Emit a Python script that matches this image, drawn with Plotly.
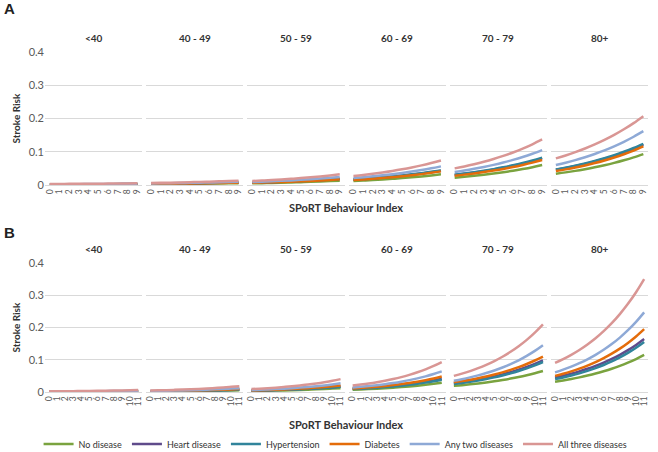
import plotly.graph_objects as go
from plotly.subplots import make_subplots

# Categories
AGE_GROUPS = ['&lt;40', '40 - 49', '50 - 59', '60 - 69', '70 - 79', '80+']
DISEASES = ['No disease', 'Heart disease', 'Hypertension', 'Diabetes',
            'Any two diseases', 'All three diseases']
COLORS = ['#7AA33F', '#5F4B8B', '#31849B', '#E46C0A', '#8EA9D6', '#D99694']

INDEX_A = [0, 1, 2, 3, 4, 5, 6, 7, 8, 9]
INDEX_B = [0, 1, 2, 3, 4, 5, 6, 7, 8, 9, 10, 11]

# Panel A: stroke risk per age group, rows in DISEASES order
A_LT40 = [
    [0.0012, 0.0013, 0.0014, 0.0015, 0.0015, 0.0016, 0.0017, 0.0018, 0.0020, 0.0021],
    [0.0017, 0.0018, 0.0019, 0.0020, 0.0022, 0.0023, 0.0024, 0.0026, 0.0027, 0.0029],
    [0.0018, 0.0019, 0.0020, 0.0021, 0.0023, 0.0024, 0.0025, 0.0027, 0.0028, 0.0030],
    [0.0016, 0.0017, 0.0018, 0.0019, 0.0020, 0.0021, 0.0022, 0.0024, 0.0025, 0.0027],
    [0.0022, 0.0023, 0.0025, 0.0026, 0.0028, 0.0029, 0.0031, 0.0033, 0.0035, 0.0037],
    [0.0030, 0.0032, 0.0034, 0.0036, 0.0038, 0.0040, 0.0042, 0.0044, 0.0047, 0.0050],
]
A_40_49 = [
    [0.0025, 0.0027, 0.0030, 0.0032, 0.0035, 0.0039, 0.0042, 0.0046, 0.0050, 0.0055],
    [0.0035, 0.0038, 0.0042, 0.0045, 0.0049, 0.0054, 0.0059, 0.0064, 0.0070, 0.0076],
    [0.0037, 0.0040, 0.0044, 0.0048, 0.0052, 0.0057, 0.0062, 0.0067, 0.0073, 0.0080],
    [0.0032, 0.0035, 0.0038, 0.0042, 0.0045, 0.0049, 0.0054, 0.0059, 0.0064, 0.0070],
    [0.0045, 0.0049, 0.0053, 0.0058, 0.0064, 0.0069, 0.0076, 0.0082, 0.0090, 0.0098],
    [0.0060, 0.0065, 0.0071, 0.0078, 0.0085, 0.0092, 0.0101, 0.0110, 0.0119, 0.0130],
]
A_50_59 = [
    [0.0050, 0.0056, 0.0062, 0.0069, 0.0077, 0.0085, 0.0094, 0.0105, 0.0117, 0.0130],
    [0.0070, 0.0078, 0.0086, 0.0096, 0.0106, 0.0118, 0.0131, 0.0146, 0.0162, 0.0180],
    [0.0075, 0.0083, 0.0093, 0.0103, 0.0114, 0.0127, 0.0141, 0.0156, 0.0172, 0.0190],
    [0.0065, 0.0072, 0.0080, 0.0090, 0.0100, 0.0111, 0.0124, 0.0138, 0.0153, 0.0170],
    [0.0090, 0.0100, 0.0112, 0.0125, 0.0139, 0.0155, 0.0173, 0.0193, 0.0215, 0.0240],
    [0.0120, 0.0134, 0.0149, 0.0166, 0.0186, 0.0207, 0.0231, 0.0257, 0.0287, 0.0320],
]
A_60_69 = [
    [0.0120, 0.0134, 0.0149, 0.0166, 0.0186, 0.0207, 0.0231, 0.0257, 0.0287, 0.0320],
    [0.0160, 0.0179, 0.0199, 0.0222, 0.0248, 0.0277, 0.0309, 0.0345, 0.0385, 0.0430],
    [0.0170, 0.0189, 0.0210, 0.0233, 0.0259, 0.0288, 0.0320, 0.0356, 0.0396, 0.0440],
    [0.0150, 0.0168, 0.0188, 0.0210, 0.0234, 0.0262, 0.0293, 0.0327, 0.0366, 0.0410],
    [0.0210, 0.0234, 0.0261, 0.0291, 0.0325, 0.0362, 0.0404, 0.0450, 0.0502, 0.0560],
    [0.0270, 0.0302, 0.0338, 0.0378, 0.0422, 0.0472, 0.0528, 0.0591, 0.0661, 0.0739],
]
A_70_79 = [
    [0.0220, 0.0246, 0.0275, 0.0307, 0.0343, 0.0384, 0.0429, 0.0480, 0.0536, 0.0600],
    [0.0300, 0.0335, 0.0373, 0.0416, 0.0464, 0.0517, 0.0577, 0.0643, 0.0717, 0.0800],
    [0.0310, 0.0345, 0.0385, 0.0429, 0.0478, 0.0532, 0.0593, 0.0661, 0.0736, 0.0820],
    [0.0280, 0.0312, 0.0349, 0.0389, 0.0434, 0.0484, 0.0540, 0.0603, 0.0672, 0.0750],
    [0.0390, 0.0435, 0.0486, 0.0543, 0.0606, 0.0676, 0.0755, 0.0843, 0.0941, 0.1050],
    [0.0500, 0.0559, 0.0625, 0.0699, 0.0782, 0.0875, 0.0978, 0.1094, 0.1224, 0.1369],
]
A_80 = [
    [0.0340, 0.0380, 0.0425, 0.0476, 0.0532, 0.0595, 0.0665, 0.0744, 0.0832, 0.0930],
    [0.0460, 0.0512, 0.0570, 0.0635, 0.0707, 0.0788, 0.0877, 0.0977, 0.1088, 0.1211],
    [0.0470, 0.0523, 0.0583, 0.0649, 0.0723, 0.0805, 0.0897, 0.0999, 0.1113, 0.1240],
    [0.0420, 0.0470, 0.0526, 0.0589, 0.0660, 0.0739, 0.0827, 0.0926, 0.1036, 0.1160],
    [0.0600, 0.0670, 0.0748, 0.0836, 0.0933, 0.1042, 0.1164, 0.1299, 0.1451, 0.1620],
    [0.0800, 0.0889, 0.0988, 0.1098, 0.1221, 0.1357, 0.1508, 0.1676, 0.1862, 0.2070],
]

# Panel B
B_LT40 = [
    [0.0007, 0.0008, 0.0009, 0.0009, 0.0010, 0.0011, 0.0012, 0.0014, 0.0015, 0.0017, 0.0018, 0.0020],
    [0.0010, 0.0011, 0.0012, 0.0013, 0.0014, 0.0016, 0.0017, 0.0019, 0.0021, 0.0023, 0.0025, 0.0028],
    [0.0009, 0.0010, 0.0011, 0.0012, 0.0013, 0.0014, 0.0016, 0.0017, 0.0019, 0.0021, 0.0023, 0.0026],
    [0.0011, 0.0012, 0.0013, 0.0015, 0.0016, 0.0017, 0.0019, 0.0021, 0.0023, 0.0025, 0.0028, 0.0031],
    [0.0014, 0.0015, 0.0017, 0.0019, 0.0020, 0.0022, 0.0025, 0.0027, 0.0030, 0.0033, 0.0036, 0.0040],
    [0.0020, 0.0022, 0.0025, 0.0027, 0.0030, 0.0033, 0.0036, 0.0040, 0.0044, 0.0049, 0.0054, 0.0060],
]
B_40_49 = [
    [0.0015, 0.0017, 0.0019, 0.0021, 0.0024, 0.0027, 0.0030, 0.0034, 0.0038, 0.0043, 0.0048, 0.0055],
    [0.0021, 0.0024, 0.0027, 0.0030, 0.0034, 0.0038, 0.0043, 0.0049, 0.0055, 0.0062, 0.0069, 0.0078],
    [0.0019, 0.0021, 0.0024, 0.0027, 0.0031, 0.0035, 0.0040, 0.0045, 0.0050, 0.0057, 0.0064, 0.0072],
    [0.0024, 0.0027, 0.0031, 0.0035, 0.0039, 0.0044, 0.0050, 0.0056, 0.0063, 0.0071, 0.0080, 0.0090],
    [0.0030, 0.0034, 0.0039, 0.0044, 0.0050, 0.0057, 0.0064, 0.0073, 0.0082, 0.0093, 0.0106, 0.0120],
    [0.0045, 0.0051, 0.0058, 0.0066, 0.0075, 0.0085, 0.0096, 0.0109, 0.0124, 0.0140, 0.0159, 0.0180],
]
B_50_59 = [
    [0.0030, 0.0034, 0.0039, 0.0044, 0.0050, 0.0057, 0.0064, 0.0073, 0.0082, 0.0093, 0.0106, 0.0120],
    [0.0043, 0.0049, 0.0056, 0.0063, 0.0072, 0.0082, 0.0092, 0.0105, 0.0119, 0.0134, 0.0151, 0.0170],
    [0.0040, 0.0045, 0.0052, 0.0059, 0.0067, 0.0075, 0.0086, 0.0097, 0.0110, 0.0125, 0.0141, 0.0160],
    [0.0048, 0.0055, 0.0062, 0.0071, 0.0081, 0.0092, 0.0105, 0.0119, 0.0136, 0.0154, 0.0176, 0.0200],
    [0.0060, 0.0069, 0.0079, 0.0090, 0.0104, 0.0119, 0.0136, 0.0156, 0.0179, 0.0205, 0.0235, 0.0270],
    [0.0090, 0.0103, 0.0118, 0.0135, 0.0155, 0.0177, 0.0203, 0.0232, 0.0266, 0.0305, 0.0349, 0.0400],
]
B_60_69 = [
    [0.0070, 0.0080, 0.0091, 0.0103, 0.0117, 0.0134, 0.0152, 0.0173, 0.0197, 0.0224, 0.0255, 0.0290],
    [0.0100, 0.0114, 0.0129, 0.0147, 0.0167, 0.0190, 0.0216, 0.0245, 0.0279, 0.0317, 0.0360, 0.0410],
    [0.0090, 0.0103, 0.0117, 0.0133, 0.0152, 0.0173, 0.0197, 0.0225, 0.0256, 0.0292, 0.0333, 0.0380],
    [0.0110, 0.0126, 0.0144, 0.0164, 0.0188, 0.0215, 0.0245, 0.0281, 0.0321, 0.0367, 0.0420, 0.0480],
    [0.0140, 0.0161, 0.0185, 0.0212, 0.0243, 0.0279, 0.0320, 0.0368, 0.0422, 0.0485, 0.0557, 0.0640],
    [0.0200, 0.0230, 0.0264, 0.0304, 0.0350, 0.0402, 0.0462, 0.0532, 0.0611, 0.0703, 0.0809, 0.0930],
]
B_70_79 = [
    [0.0190, 0.0212, 0.0238, 0.0266, 0.0297, 0.0332, 0.0372, 0.0416, 0.0465, 0.0520, 0.0581, 0.0650],
    [0.0270, 0.0304, 0.0341, 0.0384, 0.0431, 0.0485, 0.0545, 0.0613, 0.0689, 0.0775, 0.0871, 0.0980],
    [0.0250, 0.0282, 0.0317, 0.0358, 0.0403, 0.0454, 0.0512, 0.0577, 0.0650, 0.0732, 0.0825, 0.0930],
    [0.0300, 0.0338, 0.0380, 0.0428, 0.0481, 0.0541, 0.0609, 0.0686, 0.0771, 0.0868, 0.0977, 0.1100],
    [0.0350, 0.0398, 0.0453, 0.0516, 0.0587, 0.0668, 0.0760, 0.0865, 0.0984, 0.1120, 0.1274, 0.1450],
    [0.0500, 0.0570, 0.0649, 0.0739, 0.0842, 0.0960, 0.1093, 0.1246, 0.1419, 0.1617, 0.1843, 0.2100],
]
B_80 = [
    [0.0320, 0.0359, 0.0404, 0.0454, 0.0510, 0.0572, 0.0643, 0.0722, 0.0811, 0.0911, 0.1023, 0.1150],
    [0.0450, 0.0506, 0.0569, 0.0640, 0.0720, 0.0810, 0.0912, 0.1025, 0.1153, 0.1297, 0.1459, 0.1641],
    [0.0400, 0.0452, 0.0512, 0.0579, 0.0655, 0.0740, 0.0837, 0.0947, 0.1071, 0.1211, 0.1370, 0.1550],
    [0.0500, 0.0566, 0.0640, 0.0725, 0.0820, 0.0928, 0.1050, 0.1189, 0.1345, 0.1523, 0.1723, 0.1950],
    [0.0610, 0.0693, 0.0787, 0.0893, 0.1014, 0.1152, 0.1308, 0.1486, 0.1687, 0.1916, 0.2176, 0.2470],
    [0.0900, 0.1018, 0.1152, 0.1303, 0.1475, 0.1668, 0.1888, 0.2136, 0.2416, 0.2734, 0.3093, 0.3500],
]

PANEL_A = [A_LT40, A_40_49, A_50_59, A_60_69, A_70_79, A_80]
PANEL_B = [B_LT40, B_40_49, B_50_59, B_60_69, B_70_79, B_80]

W, H = 658, 452
FONT = 'Lato, Open Sans, sans-serif'
GRID = '#D9D9D9'
TXT = '#595959'

fig = make_subplots(rows=2, cols=6)

# pixel layout of the grid of panels
col_left, col_w, col_gap = 45, 97.2, 4
row_px = [(52, 185), (263, 392)]


def note(text, x_px, y_px, size, color='#333333', family=FONT, angle=0):
    fig.add_annotation(text=text, showarrow=False, textangle=angle,
                       x=x_px / W, y=1 - y_px / H, xref='paper', yref='paper',
                       xanchor='center', yanchor='middle',
                       font=dict(size=size, color=color, family=family))


for r, (panel, index) in enumerate([(PANEL_A, INDEX_A), (PANEL_B, INDEX_B)], start=1):
    top, bottom = row_px[r - 1]
    for c, series in enumerate(panel, start=1):
        for i, vals in enumerate(series):
            fig.add_trace(go.Scatter(
                x=index, y=vals, mode='lines', name=DISEASES[i],
                line=dict(color=COLORS[i], width=2.5, shape='spline'),
                showlegend=(r == 1 and c == 1), legendgroup=DISEASES[i]),
                row=r, col=c)
        x0 = col_left + (c - 1) * (col_w + col_gap)
        fig.update_xaxes(
            domain=[x0 / W, (x0 + col_w) / W],
            range=[-0.5, len(index) - 0.5], tickvals=index, ticktext=[str(v) for v in index],
            tickangle=-90, tickfont=dict(size=8.5, color=TXT, family=FONT),
            showgrid=False, showline=True, linecolor=GRID, linewidth=1,
            ticks='', zeroline=False, automargin=False, row=r, col=c)
        fig.update_yaxes(
            domain=[1 - bottom / H, 1 - top / H],
            range=[0, 0.4], tickvals=[0, 0.1, 0.2, 0.3, 0.4],
            ticktext=['0', '0.1', '0.2', '0.3', '0.4'],
            showticklabels=(c == 1), tickfont=dict(size=11, color=TXT, family=FONT),
            showgrid=True, gridcolor=GRID, gridwidth=1, zeroline=False,
            ticks='', automargin=False, row=r, col=c)
        # age group title
        note('<b>%s</b>' % AGE_GROUPS[c - 1], x0 + col_w / 2, top - 14, 10)
    # y axis title
    note('<b>Stroke Risk</b>', 15, (top + bottom) / 2, 10, angle=-90)
    # x axis title
    note('<b>SPoRT Behaviour Index</b>', 346, bottom + (22 if r == 1 else 32), 11)

# panel letters
note('<b>A</b>', 9, 9, 15, color='#222222', family='Liberation Sans, Arial')
note('<b>B</b>', 9, 232, 15, color='#222222', family='Liberation Sans, Arial')

fig.update_layout(
    width=W, height=H,
    margin=dict(l=0, r=0, t=0, b=0, autoexpand=False),
    paper_bgcolor='white', plot_bgcolor='white',
    font=dict(family=FONT, color=TXT),
    legend=dict(orientation='h', x=0.51, xanchor='center', y=1 - 444 / H, yanchor='middle',
                font=dict(size=9, color='#333333', family=FONT),
                itemwidth=30, tracegroupgap=0, bgcolor='rgba(0,0,0,0)'),
)

fig.write_html("out.html", config={'displayModeBar': False},
               post_script="document.body.style.margin='0';")
